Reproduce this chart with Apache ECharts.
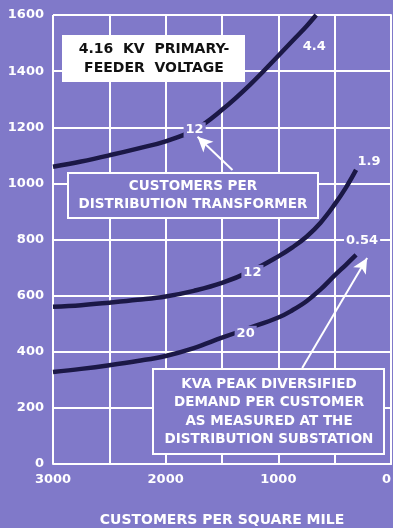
<!DOCTYPE html>
<html>
<head>
<meta charset="utf-8">
<script src="https://cdn.jsdelivr.net/npm/echarts@6/dist/echarts.min.js"></script>
<style>
  html, body { margin: 0; padding: 0; background: #8079c9; }
  #chart { width: 393px; height: 528px; }
</style>
</head>
<body>
<div id="chart"></div>
<script>
// Customers per square mile (x) vs. customers per feeder (y), 4.16 kV primary
const xTicks = [0, 500, 1000, 1500, 2000, 2500, 3000];
const yTicks = [0, 200, 400, 600, 800, 1000, 1200, 1400, 1600];

// Demand-class curves: [customers per sq mile, customers]
const curve44 = [
  [3000, 1059], [2750, 1078], [2500, 1100], [2250, 1124], [2000, 1150],
  [1743, 1191], [1500, 1262], [1250, 1352], [1000, 1455], [850, 1518],
  [750, 1560], [664, 1600]
];
const curve19 = [
  [3000, 560], [2750, 566], [2500, 575], [2250, 585], [2000, 597],
  [1750, 617], [1500, 645], [1230, 690], [1000, 740], [875, 772],
  [750, 810], [625, 860], [500, 925], [400, 985], [310, 1048]
];
const curve054 = [
  [3000, 328], [2750, 339], [2500, 352], [2250, 367], [2000, 385],
  [1750, 413], [1500, 450], [1290, 480], [1000, 522], [875, 548],
  [750, 580], [625, 622], [500, 672], [400, 710], [310, 745]
];

// kVA per customer (end labels) and customers per transformer (inline labels)
const kvaLabels = ['4.4', '1.9', '0.54'];
const transformerLabels = ['12', '12', '20'];
const inlineIndex = [5, 7, 7];

const BG = '#8079c9';
const INK = '#1b1846';
const FONT = 'DejaVu Sans';

function inlineLabel(text, offset) {
  return {
    show: true, position: 'inside', formatter: text, offset: offset || [0, 0],
    color: '#fff', fontFamily: FONT, fontWeight: 'bold', fontSize: 13,
    backgroundColor: BG, padding: [1, 2]
  };
}
function endLabel(text, offset, bg) {
  return {
    show: true, position: 'inside', formatter: text, offset: offset,
    color: '#fff', fontFamily: FONT, fontWeight: 'bold', fontSize: 13,
    backgroundColor: bg ? BG : 'transparent', padding: [0, 2]
  };
}

function buildData(points, idx, inlineText, inlineOff, endText, endOff, endBg) {
  return points.map((p, i) => {
    const item = { value: p };
    if (i === idx) item.label = inlineLabel(inlineText, inlineOff);
    if (i === points.length - 1) item.label = endLabel(endText, endOff, endBg);
    return item;
  });
}

function curveSeries(name, data) {
  return {
    name, type: 'line', smooth: 0.4, data,
    symbol: 'circle', symbolSize: 1, showSymbol: true,
    itemStyle: { color: 'transparent' },
    lineStyle: { color: INK, width: 4.5 },
    label: { show: false },
    z: 3
  };
}

const chart = echarts.init(document.getElementById('chart'), null, { renderer: 'canvas' });

const arrowLine = {
  silent: true,
  symbol: ['none', 'arrow'], symbolSize: [11, 15],
  lineStyle: { color: '#fff', width: 2, type: 'solid' },
  label: { show: false },
  z: 6
};

const boxText = (text, x, y, fill, size, lh) => ({
  type: 'text', x, y, z: 101,
  style: {
    text, fill, align: 'center', verticalAlign: 'middle',
    font: 'bold ' + size + 'px "DejaVu Sans"', lineHeight: lh
  }
});

chart.setOption({
  backgroundColor: BG,
  animation: false,
  grid: { left: 53, right: 2, top: 15, bottom: 64, containLabel: false, outerBoundsMode: 'none' },
  xAxis: {
    type: 'value', inverse: true, min: 0, max: 3000, interval: 500,
    axisLine: { show: true, lineStyle: { color: '#fff', width: 2 } },
    axisTick: { show: false },
    splitLine: { show: true, lineStyle: { color: '#fff', width: 2 } },
    axisLabel: {
      color: '#fff', fontFamily: FONT, fontWeight: 'bold', fontSize: 13, margin: 9,
      alignMinLabel: 'right',
      formatter: v => (v % 1000 === 0 ? String(v) : '')
    },
    name: 'CUSTOMERS PER SQUARE MILE', nameLocation: 'middle', nameGap: 49,
    nameTextStyle: { color: '#fff', fontFamily: FONT, fontWeight: 'bold', fontSize: 14 }
  },
  yAxis: {
    type: 'value', min: 0, max: 1600, interval: 200,
    axisLine: { show: true, lineStyle: { color: '#fff', width: 2 } },
    axisTick: { show: false },
    splitLine: { show: true, lineStyle: { color: '#fff', width: 2 } },
    axisLabel: {
      color: '#fff', fontFamily: FONT, fontWeight: 'bold', fontSize: 13, margin: 9,
      formatter: v => String(v)
    }
  },
  series: [
    Object.assign(curveSeries('kva44',
      buildData(curve44, inlineIndex[0], transformerLabels[0], [0, 0], kvaLabels[0], [-2, 32], false)), {
      markLine: Object.assign({ data: [[{ coord: [1407, 1048] }, { coord: [1717, 1166] }]] }, arrowLine)
    }),
    curveSeries('kva19',
      buildData(curve19, inlineIndex[1], transformerLabels[1], [0, 2], kvaLabels[1], [13, -8], false)),
    Object.assign(curveSeries('kva054',
      buildData(curve054, inlineIndex[2], transformerLabels[2], [0, 4], kvaLabels[2], [6, -14], true)), {
      markLine: Object.assign({ data: [[{ coord: [788, 342] }, { coord: [212, 734] }]] }, arrowLine)
    })
  ],
  graphic: [
    {
      type: 'group', left: 62, top: 35, z: 100,
      children: [
        { type: 'rect', z: 100, shape: { x: 0, y: 0, width: 183, height: 47 }, style: { fill: '#fff' } },
        boxText('4.16  KV  PRIMARY-\nFEEDER  VOLTAGE', 92, 24, '#111', 14, 19)
      ]
    },
    {
      type: 'group', left: 67, top: 172, z: 100,
      children: [
        { type: 'rect', z: 100, shape: { x: 0, y: 0, width: 250, height: 45 }, style: { fill: BG, stroke: '#fff', lineWidth: 2 } },
        boxText('CUSTOMERS PER\nDISTRIBUTION TRANSFORMER', 125, 22, '#fff', 13.5, 18)
      ]
    },
    {
      type: 'group', left: 152, top: 368, z: 100,
      children: [
        { type: 'rect', z: 100, shape: { x: 0, y: 0, width: 231, height: 85 }, style: { fill: BG, stroke: '#fff', lineWidth: 2 } },
        boxText('KVA PEAK DIVERSIFIED\nDEMAND PER CUSTOMER\nAS MEASURED AT THE\nDISTRIBUTION SUBSTATION', 116, 43, '#fff', 13.5, 18.5)
      ]
    }
  ]
});
</script>
</body>
</html>
